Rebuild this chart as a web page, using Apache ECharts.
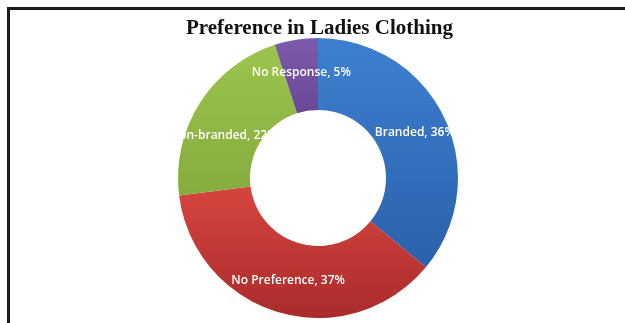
<!DOCTYPE html>
<html>
<head>
<meta charset="utf-8">
<style>
html,body{margin:0;padding:0;background:#fff;}
#c{width:625px;height:323px;}
</style>
<script src="https://cdn.jsdelivr.net/npm/echarts@6/dist/echarts.min.js"></script>
</head>
<body>
<div id="c"></div>
<script>
var title = "Preference in Ladies Clothing";
var categories = ["Branded", "No Preference", "Non-branded", "No Response"];
var values = [36, 37, 22, 5];
var topColors = ["#3d80d1", "#d6453f", "#9cc44d", "#7f5aac"];
var bottomColors = ["#2b61aa", "#a92b2b", "#86ac3e", "#684893"];

var chart = echarts.init(document.getElementById('c'), null, {renderer: 'canvas'});
var data = categories.map(function (name, i) {
  var item = {
    name: name,
    value: values[i],
    itemStyle: {
      color: new echarts.graphic.LinearGradient(0, 0, 0, 1, [
        {offset: 0, color: topColors[i]},
        {offset: 1, color: bottomColors[i]}
      ])
    }
  };
  if (name === "Non-branded") item.label = {offset: [-4, 15]};
  return item;
});

chart.setOption({
  animation: false,
  title: {
    text: title,
    left: 181,
    top: 13,
    textStyle: {
      fontFamily: '"Liberation Serif", "Times New Roman", serif',
      fontWeight: 'bold',
      fontSize: 21,
      color: '#111'
    }
  },
  graphic: [
    {type: 'rect', shape: {x: 7, y: 7, width: 618, height: 3}, style: {fill: '#1a1a1a'}},
    {type: 'rect', shape: {x: 7, y: 7, width: 3, height: 316}, style: {fill: '#1a1a1a'}}
  ],
  series: [{
    type: 'pie',
    center: [318, 178],
    radius: [68, 140],
    startAngle: 90,
    clockwise: true,
    label: {
      show: true,
      position: 'inside',
      formatter: function (p) { return p.name + ', ' + p.value + '%'; },
      color: '#fff',
      fontFamily: '"Open Sans", "Noto Sans", sans-serif',
      fontWeight: 600,
      fontSize: 12
    },
    labelLine: {show: false},
    emphasis: {disabled: true},
    data: data
  }]
});
</script>
</body>
</html>
